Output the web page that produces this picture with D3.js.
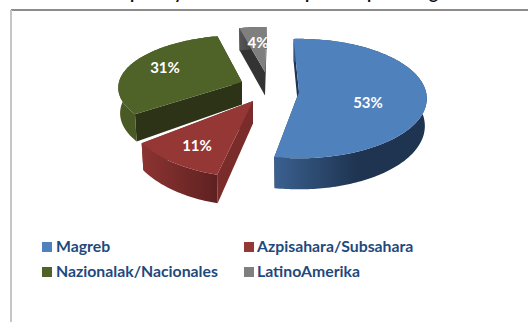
<!DOCTYPE html>
<html lang="en">
<head>
    <meta charset="UTF-8">
    <title>Chart</title>
    <style>
        html,body{
            margin:0;
            background:#fff;
        }
        svg{
            display:block;
        }
        text{
            font-family:Lato,"Open Sans",sans-serif;
            font-weight:700;
        }
    </style>
    <script src="https://cdn.jsdelivr.net/npm/d3@7"></script>
</head>
<body>
<div id="container"></div>
<script>

var categories = ["Magreb", "Azpisahara/Subsahara", "Nazionalak/Nacionales", "LatinoAmerika"];
var values = [53, 11, 31, 4];
var titleGlyphs = "pyppg"; // only the descenders of the title are left in the picture

var w = 528;
var h = 322;

var colors = d3.scaleOrdinal().domain(categories).range(["#4f81bd", "#953735", "#4f6228", "#7f7f7f"]);
var wallLeft = d3.scaleOrdinal().domain(categories).range(["#3b6090", "#8c3432", "#4a5a25", "#555"]);
var wallRight = d3.scaleOrdinal().domain(categories).range(["#1e3450", "#5e2120", "#4a5a25", "#333"]);
var cutColors = d3.scaleOrdinal().domain(categories).range(["#1e3450", "#7a2c2a", "#2c3316", "#333333"]);

// where each exploded slice sits; turn is the perspective drift in degrees
var layout = {
    "Magreb": {ax: 299, ay: 92, rx: 127, ry: 59, depth: 27, turn: -1},
    "Azpisahara/Subsahara": {ax: 253, ay: 101, rx: 128, ry: 68, depth: 25, turn: 3.5},
    "Nazionalak/Nacionales": {ax: 242, ay: 82, rx: 123, ry: 52, depth: 25, turn: 3.5},
    "LatinoAmerika": {ax: 265, ay: 72, rx: 120, ry: 50, depth: 26, turn: 2.5}
};
var tilt = 0.11;

var svg = d3.select("#container")
        .append("svg")
        .attr("width", w)
        .attr("height", h);

var defs = svg.append("defs");

// title is cut by the top of the picture
svg.append("text")
        .attr("x", "130 174 305 367 429")
        .attr("y", -1)
        .attr("font-size", 17)
        .attr("fill", "#111")
        .text(titleGlyphs);

// chart frame
svg.append("line").attr("x1", 11).attr("x2", w).attr("y1", 10).attr("y2", 10)
        .attr("stroke", "#8c8c8c").attr("stroke-width", 2);
svg.append("line").attr("x1", 11).attr("x2", 11).attr("y1", 10).attr("y2", h)
        .attr("stroke", "#c6c6c6").attr("stroke-width", 2);

var pie = d3.pie().sort(null).startAngle(-0.03).endAngle(2 * Math.PI - 0.03);
var arcs = pie(values);

// angle (0 = up, clockwise) to screen, with a bit of perspective toward the viewer
function project(g, a, down) {
    var u = Math.sin(a), v = -Math.cos(a);
    var k = 1 / (1 - tilt * v);
    var x = g.ax + g.rx * u * k;
    var y = g.ay + g.ry * v * k;
    if (down) {
        x = g.ax + (x - g.ax) * 0.985;
        y = y + g.depth * (1 + 0.15 * v);
    }
    return [x, y];
}

function ring(g, a0, a1, down) {
    var n = Math.ceil(Math.abs(a1 - a0) / 0.02);
    return d3.range(n + 1).map(function(i) {
        return project(g, a0 + (a1 - a0) * i / n, down);
    });
}

var line = d3.line();

function drawSlice(i) {
    var name = categories[i];
    var g = layout[name];
    var turn = g.turn * Math.PI / 180;
    var a0 = arcs[i].startAngle + turn;
    var a1 = arcs[i].endAngle + turn;
    var group = svg.append("g");

    var top = ring(g, a0, a1, false);
    var bottom = ring(g, a0, a1, true);
    var xs = top.map(function(d) { return d[0]; });

    var gradId = "wall" + i;
    var grad = defs.append("linearGradient").attr("id", gradId)
            .attr("gradientUnits", "userSpaceOnUse")
            .attr("x1", d3.min(xs)).attr("x2", d3.max(xs)).attr("y1", 0).attr("y2", 0);
    grad.append("stop").attr("offset", 0).attr("stop-color", wallLeft(name));
    grad.append("stop").attr("offset", i === 0 ? 0.55 : 1).attr("stop-color", wallRight(name));

    // the two cut faces
    var apex = [g.ax, g.ay];
    var apexDown = [g.ax, g.ay + g.depth * 0.9];
    [[top[0], bottom[0]], [top[top.length - 1], bottom[bottom.length - 1]]].forEach(function(e) {
        group.append("path")
                .attr("d", line([apex, e[0], e[1], apexDown]) + "Z")
                .attr("fill", cutColors(name));
    });

    // outer wall
    group.append("path")
            .attr("d", line(top.concat(bottom.slice().reverse())) + "Z")
            .attr("fill", "url(#" + gradId + ")");

    // top face
    group.append("path")
            .attr("d", line([apex].concat(top)) + "Z")
            .attr("fill", colors(name));
}

// back to front
[3, 0, 2, 1].forEach(drawSlice);

// value labels
var labelPos = d3.scaleOrdinal().domain(categories).range([[368, 103], [197, 146], [165, 68], [258, 43]]);
svg.selectAll("text.value")
        .data(values)
        .enter()
        .append("text")
        .attr("class", "value")
        .attr("x", function(d, i) { return labelPos(categories[i])[0]; })
        .attr("y", function(d, i) { return labelPos(categories[i])[1] + 5; })
        .attr("text-anchor", "middle")
        .attr("font-size", 15)
        .attr("fill", "#fff")
        .text(function(d) { return d + "%"; });

// legend
var legendX = d3.scaleOrdinal().domain([0, 1]).range([42, 244]);
var legendY = d3.scaleOrdinal().domain([0, 1]).range([242, 267]);
var legend = svg.selectAll("g.legend")
        .data(categories)
        .enter()
        .append("g")
        .attr("class", "legend")
        .attr("transform", function(d, i) {
            return "translate(" + legendX(i % 2) + "," + legendY(Math.floor(i / 2)) + ")";
        });
legend.append("rect")
        .attr("width", 10)
        .attr("height", 10)
        .attr("fill", function(d) { return colors(d); });
legend.append("text")
        .attr("x", function(d, i) { return i % 2 ? 13 : 14; })
        .attr("y", 10)
        .attr("font-size", 15.8)
        .attr("fill", "#1f497d")
        .text(function(d) { return d; });

</script>
</body>
</html>
